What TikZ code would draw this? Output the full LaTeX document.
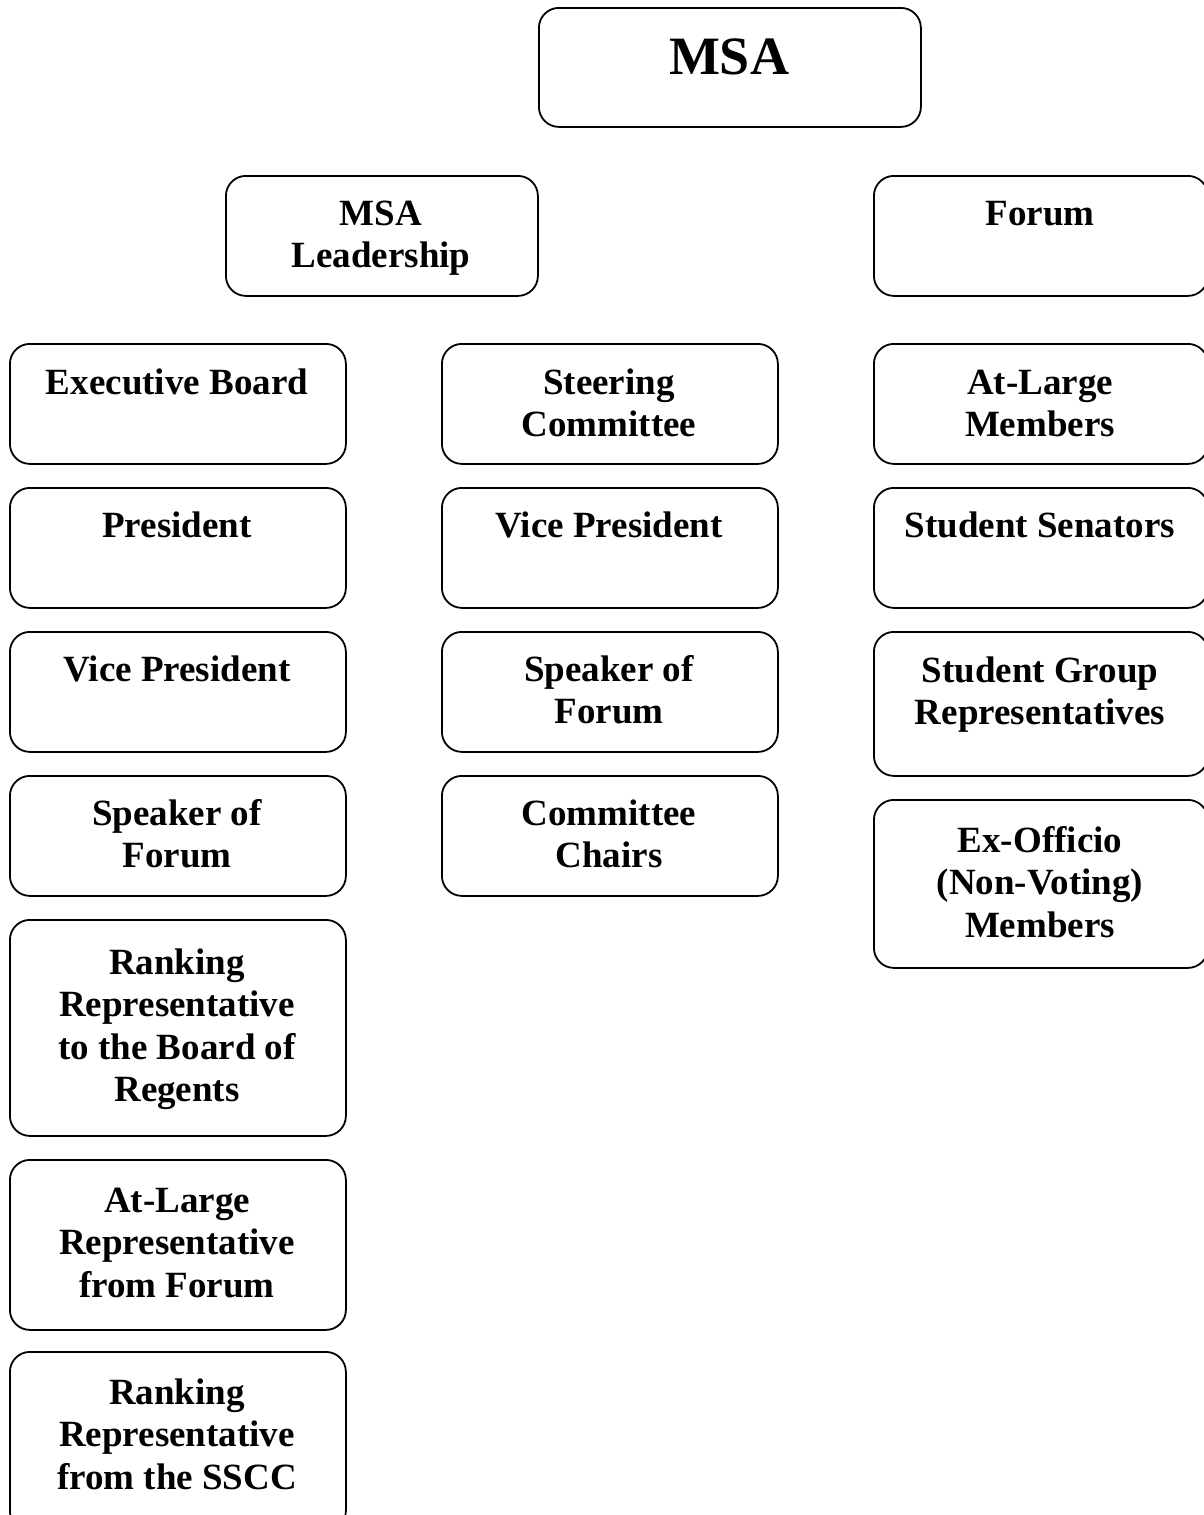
\documentclass[tikz,border=0pt]{standalone}
\usepackage{fontspec}
\setmainfont{Liberation Serif}
\newcommand\orgbox[7]{%
  \node[box, minimum width={(#4-#2)*1pt}, minimum height={(#5-#3)*1pt}] (#1) at (#2,#3) {};
  \node[lbl] (#1-t) at ({(#2+#4)/2},{#3+#6}) {\parbox[t]{330pt}{\centering #7}};
}
\begin{document}
\begin{tikzpicture}[x=1pt,y=-1pt,
  box/.style={draw, line width=1.8pt, rounded corners=20pt, inner sep=0pt, anchor=north west},
  lbl/.style={anchor=base, inner sep=0pt, font=\bfseries\fontsize{37}{42.5}\selectfont}]
\useasboundingbox (0,0) rectangle (1204,1515);
\begin{scope}
\clip (0,0) rectangle (1204,1515);
% top
\node[box, minimum width=382pt, minimum height=119pt] (msa) at (538,7) {};
\node[anchor=base, inner sep=0pt, font=\bfseries\fontsize{54}{60}\selectfont] (msa-t) at (729,74) {MSA};
\orgbox{lead}{225}{175}{537}{295}{50}{MSA\\Leadership}
\orgbox{forum}{873}{175}{1207}{295}{50}{Forum}
% left column
\orgbox{exec}{9}{343}{345}{463}{51}{Executive Board}
\orgbox{pres}{9}{487}{345}{607}{50}{President}
\orgbox{vp}{9}{631}{345}{751}{50}{Vice President}
\orgbox{spk}{9}{775}{345}{895}{50}{Speaker of\\Forum}
\orgbox{rrbr}{9}{919}{345}{1135}{55}{Ranking\\Representative\\to the Board of\\Regents}
\orgbox{alrf}{9}{1159}{345}{1329}{53}{At-Large\\Representative\\from Forum}
\orgbox{rrss}{9}{1351}{345}{1530}{53}{Ranking\\Representative\\from the SSCC}
% middle column
\orgbox{steer}{441}{343}{777}{463}{51}{Steering\\Committee}
\orgbox{vp2}{441}{487}{777}{607}{50}{Vice President}
\orgbox{spk2}{441}{631}{777}{751}{50}{Speaker of\\Forum}
\orgbox{chairs}{441}{775}{777}{895}{50}{Committee\\Chairs}
% right column
\orgbox{alm}{873}{343}{1207}{463}{51}{At-Large\\Members}
\orgbox{sen}{873}{487}{1207}{607}{50}{Student Senators}
\orgbox{sgr}{873}{631}{1207}{775}{51}{Student Group\\Representatives}
\orgbox{exo}{873}{799}{1207}{967}{53}{Ex-Officio\\(Non-Voting)\\Members}
\end{scope}
\end{tikzpicture}
\end{document}
